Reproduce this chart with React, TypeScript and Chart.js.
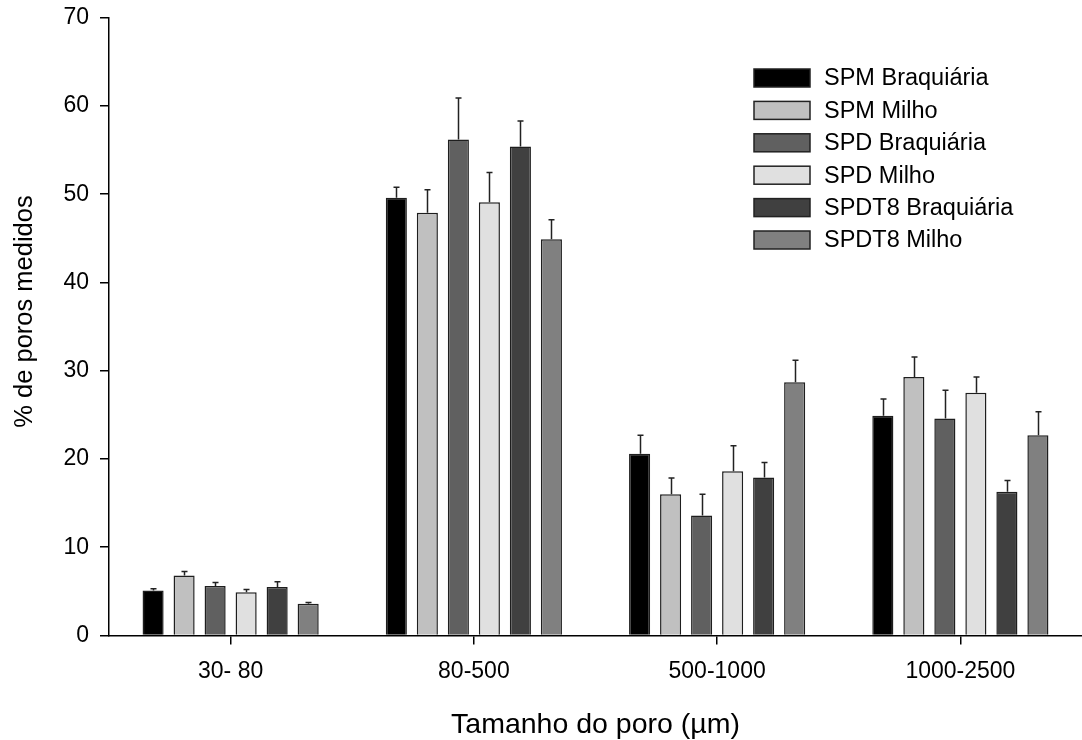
import { useEffect, useRef } from "react";
import { Chart, registerables } from "chart.js";

Chart.register(...registerables);

// Pore size classes (µm)
const categories = ["30- 80", "80-500", "500-1000", "1000-2500"];

// Treatments
const seriesNames = [
  "SPM Braquiária",
  "SPM Milho",
  "SPD Braquiária",
  "SPD Milho",
  "SPDT8 Braquiária",
  "SPDT8 Milho",
];
const seriesColors = ["#000000", "#c0c0c0", "#606060", "#e0e0e0", "#404040", "#808080"];

// Mean % of measured pores per class
const spmBraquiaria = [5.1, 49.6, 20.6, 24.9];
const spmMilho = [6.8, 47.9, 16.0, 29.3];
const spdBraquiaria = [5.6, 56.2, 13.6, 24.6];
const spdMilho = [4.9, 49.1, 18.6, 27.5];
const spdt8Braquiaria = [5.5, 55.4, 17.9, 16.3];
const spdt8Milho = [3.6, 44.9, 28.7, 22.7];

// Standard deviations (upper whisker)
const spmBraquiariaSd = [0.2, 1.2, 2.1, 1.9];
const spmMilhoSd = [0.45, 2.6, 1.85, 2.25];
const spdBraquiariaSd = [0.4, 4.7, 2.4, 3.2];
const spdMilhoSd = [0.3, 3.35, 2.9, 1.8];
const spdt8BraquiariaSd = [0.6, 2.9, 1.7, 1.25];
const spdt8MilhoSd = [0.15, 2.2, 2.5, 2.65];

const seriesValues = [spmBraquiaria, spmMilho, spdBraquiaria, spdMilho, spdt8Braquiaria, spdt8Milho];
const seriesErrors = [spmBraquiariaSd, spmMilhoSd, spdBraquiariaSd, spdMilhoSd, spdt8BraquiariaSd, spdt8MilhoSd];

// Y axis ticks
const yTickValues = [0, 10, 20, 30, 40, 50, 60, 70];

const yTitle = "% de poros medidos";
const xTitle = "Tamanho do poro (µm)";

const FONT = "'Liberation Sans', Arial, Helvetica, sans-serif";

const errorBarsPlugin = {
  id: "errorBars",
  afterDatasetsDraw(chart: any) {
    const { ctx } = chart;
    const yScale = chart.scales.y;
    ctx.save();
    ctx.strokeStyle = "#222222";
    ctx.lineWidth = 1.5;
    chart.data.datasets.forEach((ds: any, di: number) => {
      const meta = chart.getDatasetMeta(di);
      const errs = seriesErrors[di];
      meta.data.forEach((bar: any, i: number) => {
        const top = yScale.getPixelForValue(ds.data[i] + errs[i]);
        const x = Math.round(bar.x) + 0.5;
        ctx.beginPath();
        ctx.moveTo(x, bar.y);
        ctx.lineTo(x, top);
        ctx.moveTo(x - 3, top);
        ctx.lineTo(x + 3, top);
        ctx.stroke();
      });
    });
    ctx.restore();
  },
};

// Boxed legend in the upper right and the vertical axis title
const annotationsPlugin = {
  id: "boxLegend",
  afterDraw(chart: any) {
    const { ctx } = chart;
    const boxX = 754;
    const boxW = 56;
    const boxH = 18;
    const firstY = 78;
    const pitch = 32.4;
    ctx.save();
    ctx.font = `23.5px ${FONT}`;
    ctx.textBaseline = "middle";
    ctx.textAlign = "left";
    chart.data.datasets.forEach((ds: any, i: number) => {
      const cy = firstY + i * pitch;
      ctx.fillStyle = ds.backgroundColor;
      ctx.fillRect(boxX, cy - boxH / 2, boxW, boxH);
      ctx.strokeStyle = "#222222";
      ctx.lineWidth = 1.5;
      ctx.strokeRect(boxX, cy - boxH / 2, boxW, boxH);
      ctx.fillStyle = "#000000";
      ctx.fillText(ds.label, 824, cy + 1);
    });

    ctx.translate(25, 311.5);
    ctx.rotate(-Math.PI / 2);
    ctx.font = `25.5px ${FONT}`;
    ctx.textAlign = "center";
    ctx.textBaseline = "middle";
    ctx.fillStyle = "#000000";
    ctx.fillText(yTitle, 0, 0);
    ctx.restore();
  },
};

export default function App() {
  const canvasRef = useRef<HTMLCanvasElement | null>(null);

  useEffect(() => {
    if (!canvasRef.current) return;
    const chart = new Chart(canvasRef.current, {
      type: "bar",
      data: {
        labels: categories,
        datasets: seriesNames.map((name, i) => ({
          label: name,
          data: seriesValues[i],
          backgroundColor: seriesColors[i],
          borderColor: "#1e1e1e",
          borderWidth: 1.5,
          categoryPercentage: 0.765,
          barPercentage: 0.68,
        })),
      },
      options: {
        responsive: false,
        animation: false,
        layout: { padding: { top: 17.7, left: 0, right: 0, bottom: 0 } },
        plugins: {
          legend: { display: false },
          tooltip: { enabled: false },
        },
        scales: {
          x: {
            offset: true,
            grid: {
              offset: false,
              drawOnChartArea: false,
              drawTicks: true,
              tickLength: 9,
              color: "#000000",
              lineWidth: 1.5,
            },
            border: { display: true, color: "#000000", width: 1.5 },
            ticks: {
              color: "#000000",
              padding: 13,
              font: { family: FONT, size: 23 },
              maxRotation: 0,
            },
            title: {
              display: true,
              text: xTitle,
              color: "#000000",
              font: { family: FONT, size: 28.5, lineHeight: 1 },
              padding: { top: 0, bottom: 1 },
            },
            afterFit(scale: any) {
              scale.height = 104.5;
              scale.paddingLeft = 0;
              scale.paddingRight = 0;
            },
          },
          y: {
            min: yTickValues[0],
            max: yTickValues[yTickValues.length - 1],
            grid: {
              drawOnChartArea: false,
              drawTicks: true,
              tickLength: 9,
              color: "#000000",
              lineWidth: 1.5,
            },
            border: { display: true, color: "#000000", width: 1.5 },
            ticks: {
              stepSize: yTickValues[1] - yTickValues[0],
              color: "#000000",
              padding: 11,
              font: { family: FONT, size: 23 },
            },
            afterFit(scale: any) {
              scale.width = 109;
              scale.paddingTop = 0;
              scale.paddingBottom = 0;
            },
          },
        },
      },
      plugins: [errorBarsPlugin, annotationsPlugin],
    });
    return () => chart.destroy();
  }, []);

  return (
    <div style={{ position: "absolute", left: 0, top: 0, width: 1082, height: 740, background: "#ffffff" }}>
      <canvas ref={canvasRef} width={1082} height={740} style={{ display: "block" }} />
    </div>
  );
}
